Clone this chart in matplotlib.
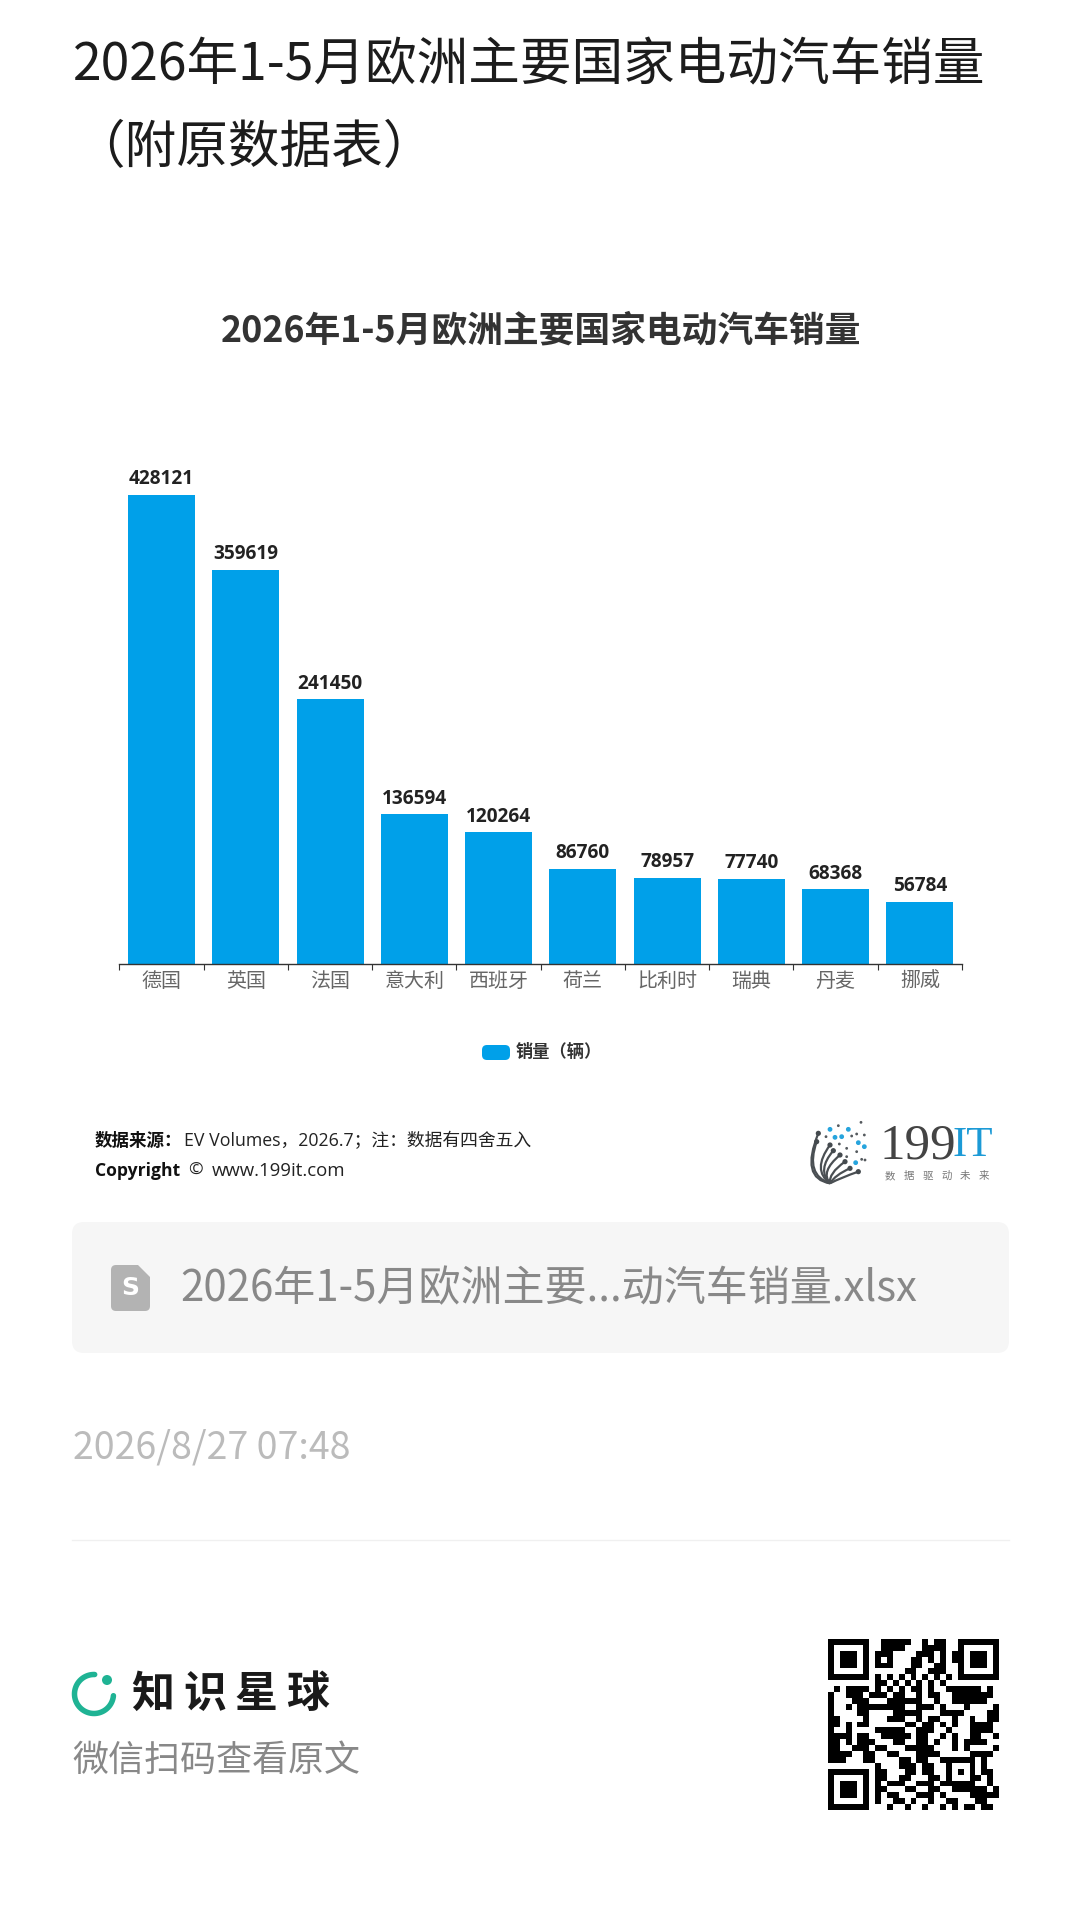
import numpy as np
import matplotlib
matplotlib.use("Agg")
import matplotlib.pyplot as plt
from matplotlib.patches import FancyBboxPatch, Polygon, PathPatch, Circle
from matplotlib.path import Path

W, H = 1080, 1909
CJK = ["Noto Sans CJK SC", "DejaVu Sans"]
LATIN = ["Open Sans", "Noto Sans CJK SC", "DejaVu Sans"]
plt.rcParams["font.family"] = CJK

countries = ["德国", "英国", "法国", "意大利", "西班牙", "荷兰", "比利时", "瑞典", "丹麦", "挪威"]
sales = [428121, 359619, 241450, 136594, 120264, 86760, 78957, 77740, 68368, 56784]

page_title = ["2026年1-5月欧洲主要国家电动汽车销量", "（附原数据表）"]
chart_title = "2026年1-5月欧洲主要国家电动汽车销量"
legend_label = "销量（辆）"
file_name = "2026年1-5月欧洲主要...动汽车销量.xlsx"
date_text = "2026/8/27 07:48"
logo_sub = "数据驱动未来"
planet_name = "知识星球"
scan_text = "微信扫码查看原文"

qr_rows = [
    "1111111 001111100101100 1111111",
    "1000001 001111000111100 1000001",
    "1011101 011100001110101 1011101",
    "1011101 010100011010101 1011101",
    "1011101 011100011001100 1011101",
    "1000001 000000110011100 1000001",
    "1111111 010101010101010 1111111",
    "00000000 110101 010101 00 0000000",
    "01011 11010 10101 10100 11111 1010",
    "10011 10111 01100 10110 01111 1110",
    "10001 11000 11111 10010 01111 1100",
    "10010 11111 11100 11101 00010 0001",
    "10000 11000 01111 10001 11100 0011",
    "11000 01000 11100 10110 01001 0011",
    "11010 11000 00011 01101 01001 1110",
    "10010 00011 11100 11100 10001 1110",
    "11110 11001 11110 11001 01001 1001",
    "11010 11100 01100 11010 01011 1100",
    "11001 11011 00011 11100 01010 0001",
    "11110 01100 11000 11110 00001 1110",
    "11100 01100 00110 11001 11111 0100",
    "00000 00010 00111 01100 10001 0100",
    "11111 11011 00011 01100 10101 0110",
    "10000 01011 00110 00110 10001 1010",
    "10111 01010 11100 11101 11111 0010",
    "10111 01011 00011 00110 01111 1101",
    "10111 01010 11000 11101 00001 1111",
    "10000 01010 01101 00100 11000 1100",
    "11111 11000 10010 01001 01011 0110",
]

fig = plt.figure(figsize=(W / 100, H / 100), dpi=100, facecolor="white")

# page layer, one data unit is one pixel
page = fig.add_axes([0, 0, 1, 1])
page.set_xlim(0, W)
page.set_ylim(H, 0)
page.axis("off")


def px(size):
    return size * 0.72


page.text(73, 66, page_title[0], fontsize=px(51.6), color="#1c1c1c", va="center")
page.text(73, 148, page_title[1], fontsize=px(51.6), color="#1c1c1c", va="center")
page.text(541, 331, chart_title, fontsize=px(35.8), color="#333333", weight="bold",
          va="center", ha="center")

# chart
ax = fig.add_axes([119.4 / W, (H - 964) / H, 842.6 / W, 469 / H])
x = np.arange(len(countries))
bars = ax.bar(x, sales, width=0.796, color="#00a0e9")
ax.set_xlim(-0.5, len(countries) - 0.5)
ax.set_ylim(0, max(sales))
ax.set_yticks([])
for side in ["top", "left", "right"]:
    ax.spines[side].set_visible(False)
ax.spines["bottom"].set_color("#333333")
ax.spines["bottom"].set_linewidth(1.0)
ax.set_xticks(x)
ax.set_xticklabels(countries, fontsize=px(20), color="#666666")
ax.tick_params(axis="x", which="major", length=0, pad=5)
ax.set_xticks(np.arange(len(countries) + 1) - 0.5, minor=True)
ax.tick_params(axis="x", which="minor", length=4, width=0.8, color="#333333")
labels = ax.bar_label(bars, labels=[str(v) for v in sales], padding=4,
                      fontsize=px(19), color="#222222", weight="bold", family=LATIN)

# legend
page.add_patch(FancyBboxPatch((485, 1048), 22, 9, boxstyle="round,pad=3,rounding_size=5",
                              fc="#00a0e9", ec="none"))
page.text(516, 1052, legend_label, fontsize=px(17.2), color="#333333", weight="bold", va="center")

# source lines
page.text(95, 1141, "数据来源：", fontsize=px(17.5), color="#111111", weight="bold", va="center")
page.text(184, 1141, "EV Volumes，2026.7；注：数据有四舍五入", fontsize=px(17.8),
          color="#222222", va="center", family=LATIN)
page.text(95, 1171, "Copyright", fontsize=px(17.5), color="#111111", weight="bold", va="center",
          family=LATIN)
page.text(188, 1171, "©", fontsize=px(17.5), color="#222222", va="center", family=LATIN)
page.text(212, 1171, "www.199it.com", fontsize=px(18.6), color="#222222", va="center", family=LATIN)

# 199IT logo, crop coordinates from the reference are 3x around (805, 1120)
def lx(v):
    return 805 + v / 3


def ly(v):
    return 1120 + v / 3


strand_ends = [(40, 40), (35, 65), (75, 75), (85, 92), (105, 105), (120, 125), (135, 145), (160, 155)]
strand_ctrl = [(-15, 175), (0, 165), (20, 150), (35, 150), (45, 155), (70, 160), (90, 165), (110, 172)]
for end, ctrl in zip(strand_ends, strand_ctrl):
    path = Path([(lx(75), ly(190)), (lx(ctrl[0]), ly(ctrl[1])), (lx(end[0]), ly(end[1]))],
                [Path.MOVETO, Path.CURVE3, Path.CURVE3])
    page.add_patch(PathPatch(path, fc="none", ec="#4a4f53", lw=1.6))
    page.add_patch(Circle((lx(end[0]), ly(end[1])), 2.6, fc="#444a4e", ec="none"))
blue_dots = [(75, 28), (110, 50), (130, 28), (178, 80), (152, 128), (160, 68), (90, 52)]
dark_dots = [(100, 17), (168, 7), (63, 50), (140, 48), (155, 42), (178, 45), (103, 72), (125, 85),
             (155, 95), (125, 110), (170, 118), (180, 120)]
for d in blue_dots:
    page.add_patch(Circle((lx(d[0]), ly(d[1])), 2.4, fc="#27a4dd", ec="none"))
for d in dark_dots:
    page.add_patch(Circle((lx(d[0]), ly(d[1])), 1.4, fc="#555a5e", ec="none"))
page.text(880, 1146, "199", fontsize=px(51), color="#444444", family="Liberation Serif",
          va="center", ha="left")
page.text(953, 1146, "IT", fontsize=px(43), color="#1c9ad6", family="Liberation Serif",
          va="center", ha="left")
for i, ch in enumerate(logo_sub):
    page.text(885 + i * 18.7, 1176, ch, fontsize=px(10.5), color="#777777", va="center", ha="left")

# attachment card
page.add_patch(FancyBboxPatch((84, 1234), 913, 107, boxstyle="round,pad=12,rounding_size=12",
                              fc="#f6f6f6", ec="none"))
page.add_patch(FancyBboxPatch((115, 1269), 31, 38, boxstyle="round,pad=4,rounding_size=5",
                              fc="#b3b3b3", ec="none"))
page.add_patch(Polygon([(136, 1263), (152, 1263), (152, 1279)], fc="#f6f6f6", ec="none"))
page.text(130.5, 1288, "S", fontsize=px(25), color="white", weight="bold", va="center", ha="center",
          family="DejaVu Sans")
page.text(180, 1289, file_name, fontsize=px(42), color="#888888", va="center")

# date and divider
page.text(73, 1448, date_text, fontsize=px(37.5), color="#bbbbbb", va="center")
page.plot([72, 1009], [1540, 1540], color="#f0f0f0", lw=1)

# knowledge planet logo
theta = np.radians(np.linspace(5, 272, 80))
page.plot(94 + 19.5 * np.cos(theta), 1694 + 19.5 * np.sin(theta), color="#1fb394", lw=px(5.5),
          solid_capstyle="round")
page.add_patch(Circle((107, 1680), 5, fc="#1fb394", ec="none"))
for i, ch in enumerate(planet_name):
    page.text(153 + i * 51.5, 1694, ch, fontsize=px(43), color="#1a1a1a", weight="bold",
              va="center", ha="center")
page.text(72, 1761, scan_text, fontsize=px(36), color="#888888", va="center")

# qr code
qr = np.array([[int(c) for c in row.replace(" ", "")] for row in qr_rows])
qr_ax = fig.add_axes([828.3 / W, (H - 1810) / H, 170.7 / W, 171 / H])
qr_ax.imshow(qr, cmap="gray_r", interpolation="nearest", aspect="auto", vmin=0, vmax=1)
qr_ax.axis("off")

fig.savefig("out.png", dpi=100, facecolor="white")
